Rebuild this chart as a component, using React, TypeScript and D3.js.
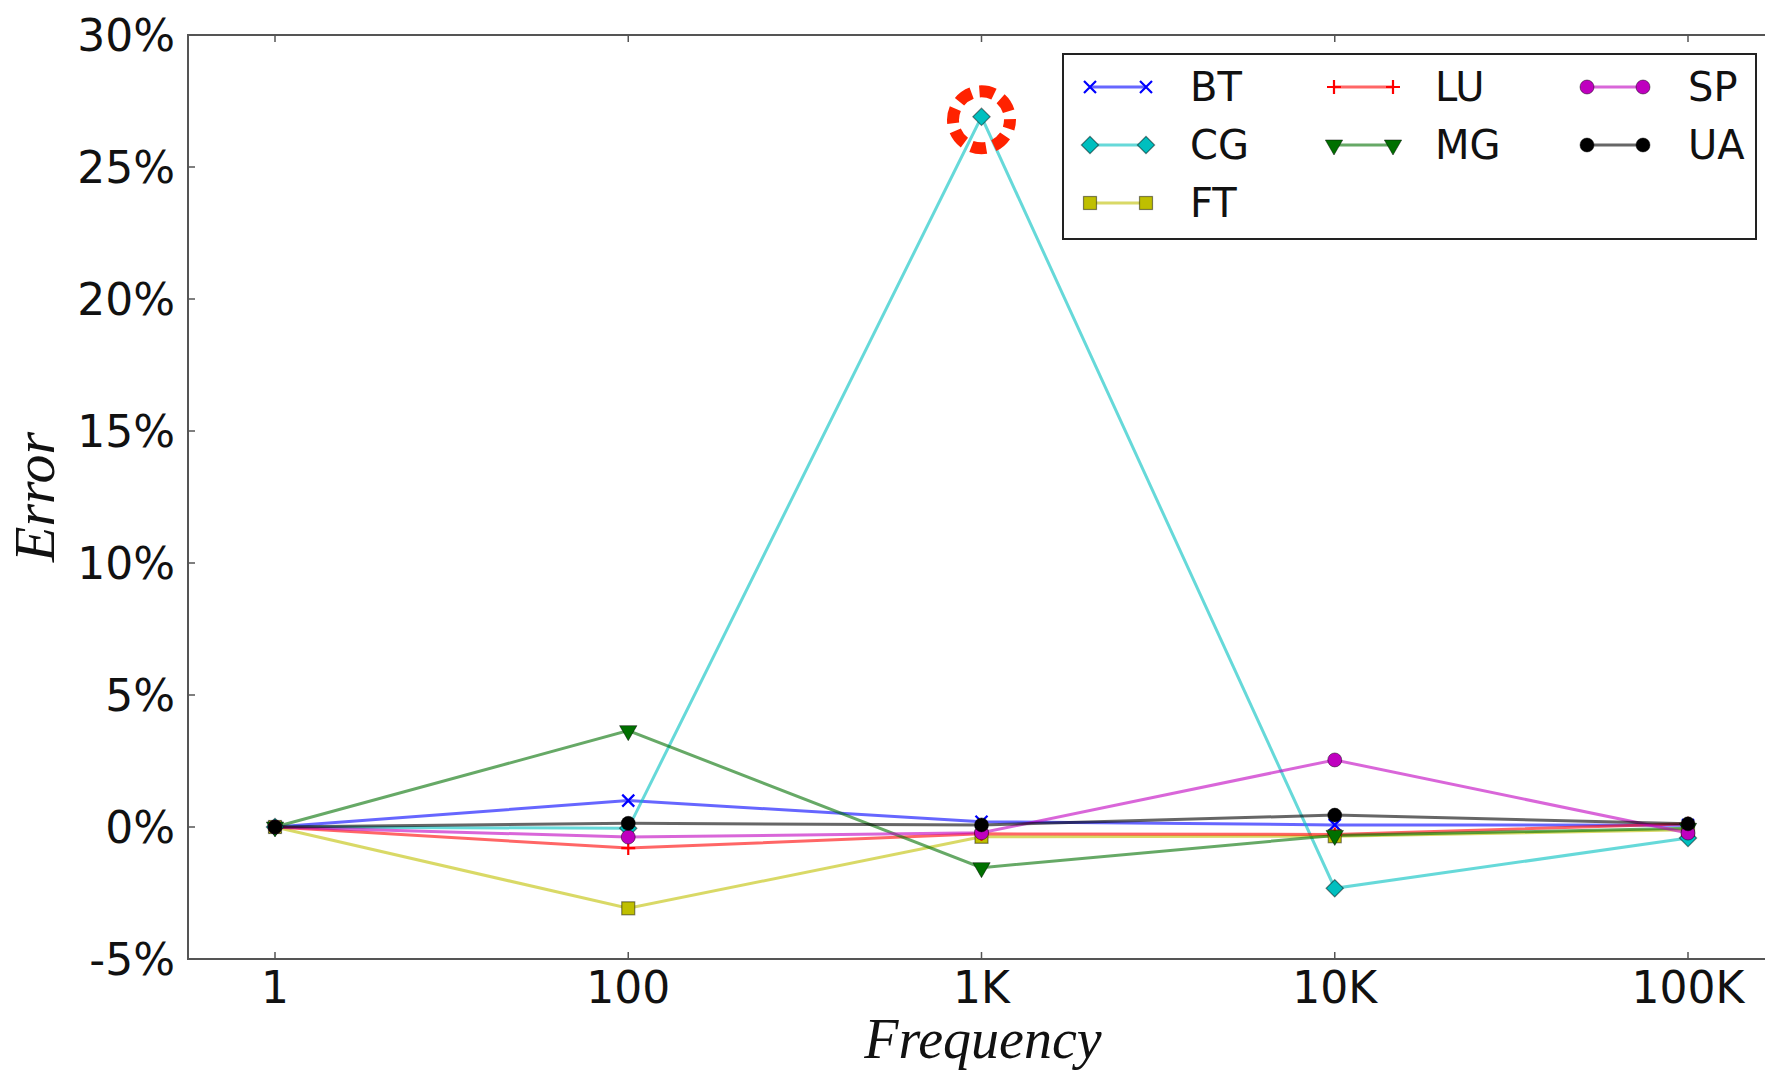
import React from 'react';
import * as d3 from 'd3';

const freqLabels = ['1', '100', '1K', '10K', '100K'];
const yTicks = [-5, 0, 5, 10, 15, 20, 25, 30];

const seriesNames = ['BT', 'CG', 'FT', 'LU', 'MG', 'SP', 'UA'];
const btValues = [0, 1.0, 0.2, 0.08, 0.07];
const cgValues = [0, -0.05, 26.9, -2.32, -0.42];
const ftValues = [0, -3.08, -0.37, -0.35, -0.1];
const luValues = [0, -0.8, -0.26, -0.28, 0.12];
const mgValues = [0, 3.65, -1.54, -0.32, -0.05];
const spValues = [0, -0.38, -0.22, 2.54, -0.23];
const uaValues = [0, 0.14, 0.08, 0.45, 0.12];

const highlightSeries = 'CG';
const highlightIndex = 2;

const W = 1765;
const H = 1070;

const styles: Record<string, { color: string; marker: string }> = {
  BT: { color: '#0000ff', marker: 'x' },
  CG: { color: '#00bfbf', marker: 'D' },
  FT: { color: '#bfbf00', marker: 's' },
  LU: { color: '#ff0000', marker: '+' },
  MG: { color: '#007000', marker: 'v' },
  SP: { color: '#bf00bf', marker: 'o' },
  UA: { color: '#000000', marker: 'o' },
};

const valuesByName: Record<string, number[]> = {
  BT: btValues,
  CG: cgValues,
  FT: ftValues,
  LU: luValues,
  MG: mgValues,
  SP: spValues,
  UA: uaValues,
};

function Marker({ kind, color, x, y }: { kind: string; color: string; x: number; y: number }) {
  const edge = 'rgba(0,0,0,0.45)';
  if (kind === 'o') {
    return <circle cx={x} cy={y} r={7} fill={color} stroke={edge} strokeWidth={1} />;
  }
  if (kind === 's') {
    return <rect x={x - 6.5} y={y - 6.5} width={13} height={13} fill={color} stroke={edge} strokeWidth={1.2} />;
  }
  if (kind === 'D') {
    const p = d3.symbol().type(d3.symbolSquare).size(150)();
    return <path d={p || ''} transform={`translate(${x},${y}) rotate(45)`} fill={color} stroke={edge} strokeWidth={1.2} />;
  }
  if (kind === 'v') {
    const p = d3.symbol().type(d3.symbolTriangle).size(130)();
    return <path d={p || ''} transform={`translate(${x},${y}) rotate(180)`} fill={color} stroke={edge} strokeWidth={1} />;
  }
  if (kind === 'x') {
    const s = 6;
    return (
      <path d={`M${x - s},${y - s}L${x + s},${y + s}M${x - s},${y + s}L${x + s},${y - s}`} stroke={color} strokeWidth={2.2} fill="none" />
    );
  }
  if (kind === '+') {
    const s = 7;
    return <path d={`M${x - s},${y}L${x + s},${y}M${x},${y - s}L${x},${y + s}`} stroke={color} strokeWidth={2.2} fill="none" />;
  }
  return null;
}

export default function App() {
  const x = d3.scalePoint<string>().domain(freqLabels).range([275, 1688]).padding(0);
  const y = d3.scaleLinear().domain([-5, 30]).range([959, 35]);
  const left = 188;
  const right = 1775;
  const top = y(30);
  const bottom = y(-5);

  const line = d3
    .line<number>()
    .x((_, i) => x(freqLabels[i]) as number)
    .y((d) => y(d));

  const tickFont = "'DejaVu Sans', sans-serif";
  const labelFont = "'Liberation Serif', 'DejaVu Serif', serif";
  const axisColor = '#555';

  const legendCols = [
    { lx0: 1090, lx1: 1146, tx: 1190, names: ['BT', 'CG', 'FT'] },
    { lx0: 1334, lx1: 1393, tx: 1435, names: ['LU', 'MG'] },
    { lx0: 1587, lx1: 1643, tx: 1688, names: ['SP', 'UA'] },
  ];
  const legendRows = [87, 145, 203];

  const hx = x(freqLabels[highlightIndex]) as number;
  const hy = y(valuesByName[highlightSeries][highlightIndex]) + 3;

  return (
    <svg width={W} height={H} style={{ position: 'absolute', left: 0, top: 0, background: '#fff' }}>
      <rect x={0} y={0} width={W} height={H} fill="#fff" />
      {/* series lines */}
      {seriesNames.map((name) => (
        <path
          key={name + '-line'}
          d={line(valuesByName[name]) || ''}
          fill="none"
          stroke={styles[name].color}
          strokeOpacity={0.6}
          strokeWidth={3}
        />
      ))}
      {/* markers */}
      {seriesNames.map((name) => (
        <g key={name + '-markers'}>
          {valuesByName[name].map((v, i) => (
            <Marker key={i} kind={styles[name].marker} color={styles[name].color} x={x(freqLabels[i]) as number} y={y(v)} />
          ))}
        </g>
      ))}
      {/* highlight dashed circle */}
      <circle cx={hx} cy={hy} r={28.5} fill="none" stroke="#ff2200" strokeWidth={12} strokeDasharray="15 8" strokeDashoffset={6} />
      {/* axes frame */}
      <rect x={left} y={top} width={right - left} height={bottom - top} fill="none" stroke={axisColor} strokeWidth={2} />
      {/* x ticks */}
      {freqLabels.map((f) => (
        <g key={'xt' + f}>
          <line x1={x(f)} x2={x(f)} y1={bottom} y2={bottom - 7} stroke={axisColor} strokeWidth={1.5} />
          <line x1={x(f)} x2={x(f)} y1={top} y2={top + 7} stroke={axisColor} strokeWidth={1.5} />
          <text x={x(f)} y={1003} textAnchor="middle" fontFamily={tickFont} fontSize={44} fill="#111">
            {f}
          </text>
        </g>
      ))}
      {/* y ticks */}
      {yTicks.map((t) => (
        <g key={'yt' + t}>
          <line x1={left} x2={left + 7} y1={y(t)} y2={y(t)} stroke={axisColor} strokeWidth={1.5} />
          <text x={175} y={y(t)} dy="0.36em" textAnchor="end" fontFamily={tickFont} fontSize={44} fill="#111">
            {`${t}%`}
          </text>
        </g>
      ))}
      {/* axis labels */}
      <text x={983} y={1058} textAnchor="middle" fontFamily={labelFont} fontStyle="italic" fontSize={56} fill="#111">
        Frequency
      </text>
      <text
        transform={`translate(54,${(top + bottom) / 2}) rotate(-90)`}
        textAnchor="middle"
        fontFamily={labelFont}
        fontStyle="italic"
        fontSize={58}
        fill="#111"
      >
        Error
      </text>
      {/* legend */}
      <rect x={1063} y={54} width={693} height={185} fill="#fff" stroke="#222" strokeWidth={2} />
      {legendCols.map((col, ci) =>
        col.names.map((name, ri) => {
          const ly = legendRows[ri];
          const st = styles[name];
          return (
            <g key={'lg' + ci + ri}>
              <line x1={col.lx0} x2={col.lx1} y1={ly} y2={ly} stroke={st.color} strokeOpacity={0.6} strokeWidth={3} />
              <Marker kind={st.marker} color={st.color} x={col.lx0} y={ly} />
              <Marker kind={st.marker} color={st.color} x={col.lx1} y={ly} />
              <text x={col.tx} y={ly} dy="0.36em" fontFamily={tickFont} fontSize={40} fill="#111">
                {name}
              </text>
            </g>
          );
        })
      )}
    </svg>
  );
}
